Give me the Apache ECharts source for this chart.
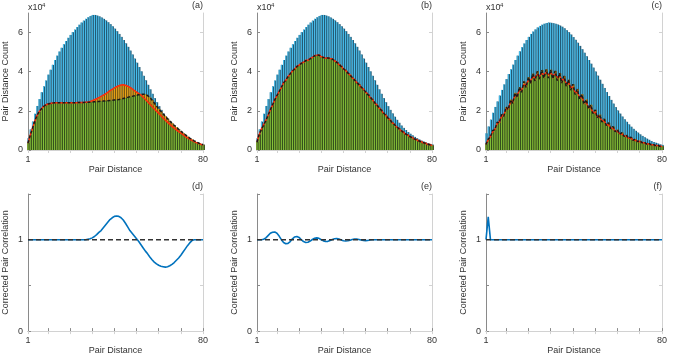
<!DOCTYPE html>
<html>
<head>
<meta charset="utf-8">
<script src="https://cdn.jsdelivr.net/npm/echarts@6/dist/echarts.min.js"></script>
<style>
html, body { margin: 0; padding: 0; background: #fff; }
#chart { width: 673px; height: 356px; }
</style>
</head>
<body>
<div id="chart"></div>
<script>
// pair distance bins
var pairDistance = [1,2,3,4,5,6,7,8,9,10,11,12,13,14,15,16,17,18,19,20,
    21,22,23,24,25,26,27,28,29,30,31,32,33,34,35,36,37,38,39,40,
    41,42,43,44,45,46,47,48,49,50,51,52,53,54,55,56,57,58,59,60,
    61,62,63,64,65,66,67,68,69,70,71,72,73,74,75,76,77,78,79,80];

// top row, counts in units of 10^4
var blueA = [0.6,1.05,1.45,1.85,2.25,2.6,2.95,3.25,3.55,3.85,4.1,4.35,4.6,4.82,5.03,5.22,5.4,5.57,5.73,5.88,
    6.02,6.15,6.28,6.4,6.51,6.61,6.7,6.78,6.85,6.9,6.9,6.87,6.83,6.77,6.7,6.62,6.53,6.43,6.32,6.2,
    6.07,5.93,5.78,5.62,5.45,5.27,5.08,4.88,4.67,4.46,4.24,4.02,3.79,3.56,3.33,3.1,2.87,2.65,2.44,2.24,
    2.05,1.87,1.7,1.54,1.39,1.25,1.13,1.02,0.92,0.83,0.75,0.67,0.6,0.54,0.48,0.43,0.39,0.35,0.31,0.28];
var redA = [0.35,0.75,1.1,1.45,1.75,1.95,2.1,2.22,2.3,2.35,2.38,2.4,2.41,2.42,2.42,2.42,2.42,2.42,2.42,2.42,
    2.42,2.42,2.42,2.43,2.43,2.43,2.44,2.45,2.48,2.52,2.57,2.62,2.68,2.74,2.8,2.87,2.95,3.03,3.1,3.17,
    3.23,3.28,3.32,3.33,3.31,3.26,3.2,3.12,3.04,2.96,2.88,2.8,2.7,2.58,2.46,2.34,2.22,2.1,1.98,1.87,
    1.75,1.63,1.52,1.41,1.31,1.21,1.12,1.03,0.94,0.86,0.78,0.7,0.62,0.55,0.49,0.43,0.38,0.33,0.29,0.25];
var dashA = [0.35,0.75,1.1,1.45,1.75,1.95,2.1,2.22,2.3,2.35,2.38,2.4,2.41,2.42,2.42,2.42,2.42,2.42,2.42,2.42,
    2.42,2.42,2.42,2.43,2.43,2.43,2.44,2.44,2.44,2.45,2.46,2.47,2.48,2.49,2.5,2.51,2.52,2.53,2.54,2.56,
    2.57,2.58,2.6,2.63,2.66,2.69,2.72,2.74,2.77,2.8,2.82,2.84,2.85,2.84,2.78,2.68,2.55,2.4,2.25,2.1,
    1.97,1.84,1.72,1.6,1.48,1.37,1.26,1.16,1.06,0.96,0.87,0.78,0.69,0.61,0.54,0.47,0.41,0.36,0.31,0.27];

var blueB = [0.6,1.05,1.45,1.85,2.25,2.6,2.95,3.25,3.55,3.85,4.1,4.35,4.6,4.82,5.03,5.22,5.4,5.57,5.73,5.88,
    6.02,6.15,6.28,6.4,6.51,6.61,6.7,6.78,6.85,6.9,6.9,6.87,6.83,6.77,6.7,6.62,6.53,6.43,6.32,6.2,
    6.07,5.93,5.78,5.62,5.45,5.27,5.08,4.88,4.67,4.46,4.24,4.02,3.79,3.56,3.33,3.1,2.87,2.65,2.44,2.24,
    2.05,1.87,1.7,1.54,1.39,1.25,1.13,1.02,0.92,0.83,0.75,0.67,0.6,0.54,0.48,0.43,0.39,0.35,0.31,0.28];
var redB = [0.42,0.78,1.07,1.3,1.52,1.76,2.06,2.28,2.57,2.76,3.0,3.18,3.44,3.56,3.76,3.88,4.04,4.13,4.28,4.33,
    4.44,4.48,4.58,4.58,4.68,4.72,4.83,4.84,4.86,4.76,4.74,4.68,4.72,4.66,4.66,4.55,4.5,4.36,4.29,4.14,
    4.07,3.92,3.84,3.68,3.6,3.44,3.36,3.2,3.12,2.95,2.86,2.69,2.6,2.42,2.32,2.15,2.06,1.89,1.8,1.63,
    1.55,1.39,1.32,1.17,1.11,0.98,0.93,0.81,0.78,0.67,0.65,0.55,0.54,0.45,0.44,0.36,0.36,0.28,0.29,0.22];
var dashB = [0.4,0.8,1.05,1.28,1.5,1.78,2.04,2.3,2.55,2.78,2.98,3.2,3.42,3.58,3.74,3.9,4.02,4.15,4.26,4.35,
    4.42,4.5,4.56,4.6,4.66,4.74,4.81,4.86,4.84,4.78,4.72,4.7,4.7,4.68,4.64,4.57,4.48,4.38,4.27,4.16,
    4.05,3.94,3.82,3.7,3.58,3.46,3.34,3.22,3.1,2.97,2.84,2.71,2.58,2.44,2.3,2.17,2.04,1.91,1.78,1.65,
    1.53,1.41,1.3,1.19,1.09,1.0,0.91,0.83,0.76,0.69,0.63,0.57,0.52,0.47,0.42,0.38,0.34,0.3,0.27,0.24];

var blueC = [0.85,1.2,1.55,1.9,2.2,2.48,2.78,3.07,3.35,3.62,3.88,4.12,4.36,4.6,4.82,5.04,5.25,5.44,5.62,5.78,
    5.93,6.05,6.16,6.26,6.34,6.4,6.45,6.49,6.51,6.5,6.48,6.45,6.41,6.36,6.3,6.22,6.12,6.02,5.9,5.77,
    5.63,5.48,5.32,5.15,4.97,4.79,4.6,4.41,4.21,4.01,3.8,3.59,3.38,3.17,2.96,2.76,2.56,2.37,2.19,2.02,
    1.86,1.71,1.57,1.44,1.31,1.19,1.08,0.98,0.89,0.8,0.72,0.65,0.58,0.52,0.46,0.41,0.37,0.33,0.29,0.26];
var redC = [0.3,0.52,0.69,0.93,1.08,1.34,1.45,1.71,1.8,2.08,2.15,2.43,2.49,2.76,2.8,3.06,3.08,3.33,3.33,3.56,
    3.54,3.74,3.69,3.86,3.78,3.93,3.83,3.96,3.84,3.95,3.8,3.88,3.71,3.77,3.58,3.62,3.41,3.43,3.2,3.2,
    2.96,2.95,2.7,2.69,2.44,2.42,2.19,2.16,1.94,1.91,1.72,1.69,1.5,1.48,1.31,1.28,1.13,1.11,0.97,0.95,
    0.84,0.82,0.72,0.7,0.61,0.6,0.52,0.5,0.44,0.43,0.38,0.37,0.32,0.31,0.27,0.27,0.23,0.23,0.2,0.18];
var dashC = [0.28,0.56,0.66,1.0,1.04,1.42,1.38,1.82,1.72,2.2,2.06,2.57,2.38,2.92,2.68,3.22,2.95,3.5,3.2,3.72,
    3.4,3.9,3.53,4.02,3.62,4.09,3.67,4.12,3.68,4.1,3.64,4.04,3.55,3.93,3.42,3.78,3.26,3.59,3.06,3.36,
    2.84,3.11,2.6,2.85,2.34,2.58,2.1,2.31,1.86,2.05,1.64,1.81,1.43,1.59,1.25,1.39,1.08,1.2,0.93,1.04,
    0.8,0.89,0.69,0.77,0.59,0.66,0.5,0.56,0.43,0.48,0.37,0.41,0.31,0.35,0.27,0.3,0.23,0.25,0.19,0.2];

// bottom row, corrected pair correlation
var corrD = [1,1,1,1,1,1,1,1,1,1,1,1,1,1,1,1,1,1,1,1,
    1,1,1,1,1,1,1,1.005,1.01,1.02,1.035,1.055,1.08,1.1,1.13,1.16,1.19,1.22,1.24,1.255,
    1.26,1.255,1.24,1.215,1.18,1.14,1.1,1.07,1.04,1.01,0.98,0.945,0.91,0.875,0.845,0.81,0.78,0.755,0.735,0.72,
    0.71,0.705,0.7,0.705,0.715,0.73,0.75,0.775,0.8,0.83,0.865,0.9,0.935,0.965,0.99,1,1,1,1,1];
var corrE = [1,1,1,1.005,1.02,1.045,1.07,1.082,1.085,1.07,1.04,1.0,0.97,0.956,0.96,0.98,1.01,1.03,1.036,1.025,
    1.0,0.98,0.97,0.972,0.985,1.002,1.015,1.02,1.015,1.0,0.987,0.98,0.982,0.992,1.003,1.011,1.013,1.008,0.998,0.989,
    0.985,0.988,0.995,1.003,1.008,1.008,1.003,0.996,0.991,0.99,0.992,0.996,1,1,1,1,1,1,1,1,
    1,1,1,1,1,1,1,1,1,1,1,1,1,1,1,1,1,1,1,1];
var corrF = [1,1.25,1,1,1,1,1,1,1,1,1,1,1,1,1,1,1,1,1,1,
    1,1,1,1,1,1,1,1,1,1,1,1,1,1,1,1,1,1,1,1,
    1,1,1,1,1,1,1,1,1,1,1,1,1,1,1,1,1,1,1,1,
    1,1,1,1,1,1,1,1,1,1,1,1,1,1,1,1,1,1,1,1];

var xTicks = [1,10,20,30,40,50,60,70,80];
var xLabels = [1,80];
var countTicks = [0,2,4,6];
var corrTicks = [0,0.5,1,1.5];
var corrLabels = [0,1];
var refLevel = 1;

var font = 'Liberation Sans';
var txt = '#333';

var grids = [
    {left: 28, top: 13, width: 175, height: 137},
    {left: 257, top: 13, width: 175, height: 137},
    {left: 486, top: 13, width: 176, height: 137},
    {left: 28, top: 194, width: 175, height: 138},
    {left: 257, top: 194, width: 175, height: 138},
    {left: 486, top: 194, width: 176, height: 138}
];

function pairs(vals) {
    return pairDistance.map(function (d, i) { return [d, vals[i]]; });
}

var xAxes = [], yAxes = [], series = [], graphics = [];

grids.forEach(function (g, i) {
    var top = i < 3;
    xAxes.push({
        type: 'value', gridIndex: i, min: 1, max: 80, position: 'bottom',
        name: 'Pair Distance', nameLocation: 'middle', nameGap: 12,
        nameTextStyle: {fontFamily: font, fontSize: 9, color: txt},
        axisLine: {lineStyle: {color: '#8a8a8a', width: 1}},
        axisTick: {inside: true, length: 3, customValues: xTicks, lineStyle: {color: '#8a8a8a'}},
        axisLabel: {customValues: xLabels, margin: 5, fontFamily: font, fontSize: 9, color: txt},
        splitLine: {show: false}
    });
    xAxes.push({
        type: 'value', gridIndex: i, min: 1, max: 80, position: 'top',
        axisLine: {lineStyle: {color: '#d2d2d2', width: 1}},
        axisTick: {inside: true, length: 3, customValues: xTicks, lineStyle: {color: '#d2d2d2'}},
        axisLabel: {show: false},
        splitLine: {show: false}
    });
    yAxes.push({
        type: 'value', gridIndex: i, min: 0, max: top ? 7 : 1.5, position: 'left',
        name: top ? 'Pair Distance Count' : 'Corrected Pair Correlation',
        nameLocation: 'middle', nameGap: 18, nameRotate: 90,
        nameTextStyle: {fontFamily: font, fontSize: 9, color: txt},
        axisLine: {show: true, lineStyle: {color: '#8a8a8a', width: 1}},
        axisTick: {show: true, inside: true, length: 3, customValues: top ? countTicks : corrTicks, lineStyle: {color: '#8a8a8a'}},
        axisLabel: {customValues: top ? countTicks : corrLabels, margin: 5, fontFamily: font, fontSize: 9, color: txt},
        splitLine: {show: false}
    });
    yAxes.push({
        type: 'value', gridIndex: i, min: 0, max: top ? 7 : 1.5, position: 'right',
        axisLine: {show: true, lineStyle: {color: '#d2d2d2', width: 1}},
        axisTick: {show: true, inside: true, length: 3, customValues: top ? countTicks : corrTicks, lineStyle: {color: '#d2d2d2'}},
        axisLabel: {show: false},
        splitLine: {show: false}
    });
});

var topSets = [[blueA, redA, dashA], [blueB, redB, dashB], [blueC, redC, dashC]];
// each bar: a dark full-width body with a lighter narrow core, like the striped original
var barColors = [['#245a74', '#48c4f4'], ['#7a5510', '#f2ab18'], ['#34501c', '#86c43a']];

topSets.forEach(function (s, k) {
    var hi = s[1].map(function (v, j) { return Math.max(v, s[2][j]); });
    var lo = s[1].map(function (v, j) { return Math.min(v, s[2][j]); });
    [s[0], hi, lo].forEach(function (vals, m) {
        series.push({type: 'bar', xAxisIndex: 2 * k, yAxisIndex: 2 * k, barWidth: 2.215, barGap: '-100%', silent: true,
            data: pairs(vals), itemStyle: {color: barColors[m][0]}});
        series.push({type: 'bar', xAxisIndex: 2 * k, yAxisIndex: 2 * k, barWidth: 1.0, barGap: '-100%', silent: true,
            data: pairs(vals), itemStyle: {color: barColors[m][1]}});
    });
    series.push({type: 'line', xAxisIndex: 2 * k, yAxisIndex: 2 * k, data: pairs(s[1]), symbol: 'none', silent: true,
        lineStyle: {color: '#ff2d0a', width: 1.5}, z: 5});
    series.push({type: 'line', xAxisIndex: 2 * k, yAxisIndex: 2 * k, data: pairs(s[2]), symbol: 'none', silent: true,
        lineStyle: {color: '#1a1a1a', width: 1.5, type: [3, 2]}, z: 6});
});

[corrD, corrE, corrF].forEach(function (c, k) {
    var gi = k + 3;
    series.push({type: 'line', xAxisIndex: 2 * gi, yAxisIndex: 2 * gi, data: pairs(c), symbol: 'none', silent: true,
        lineStyle: {color: '#0072bd', width: 1.6}, z: 3});
    series.push({type: 'line', xAxisIndex: 2 * gi, yAxisIndex: 2 * gi, data: [[1, refLevel], [80, refLevel]], symbol: 'none', silent: true,
        lineStyle: {color: '#333', width: 1.5, type: [5, 3]}, z: 4});
});

// panel letters and exponent marks
var letters = ['(a)', '(b)', '(c)', '(d)', '(e)', '(f)'];
grids.forEach(function (g, i) {
    graphics.push({type: 'text', x: g.left + g.width, y: i < 3 ? 6 : 187,
        style: {text: letters[i], align: 'right', verticalAlign: 'middle', fontFamily: font, fontSize: 9, fill: txt}});
    if (i < 3) {
        graphics.push({type: 'text', x: g.left, y: 8,
            style: {text: 'x10', align: 'left', verticalAlign: 'middle', fontFamily: font, fontSize: 9, fill: txt}});
        graphics.push({type: 'text', x: g.left + 14, y: 5,
            style: {text: '4', align: 'left', verticalAlign: 'middle', fontFamily: font, fontSize: 6, fill: txt}});
    }
});

var myChart = echarts.init(document.getElementById('chart'));
myChart.setOption({
    animation: false,
    grid: grids,
    xAxis: xAxes,
    yAxis: yAxes,
    series: series,
    graphic: graphics
});
</script>
</body>
</html>
